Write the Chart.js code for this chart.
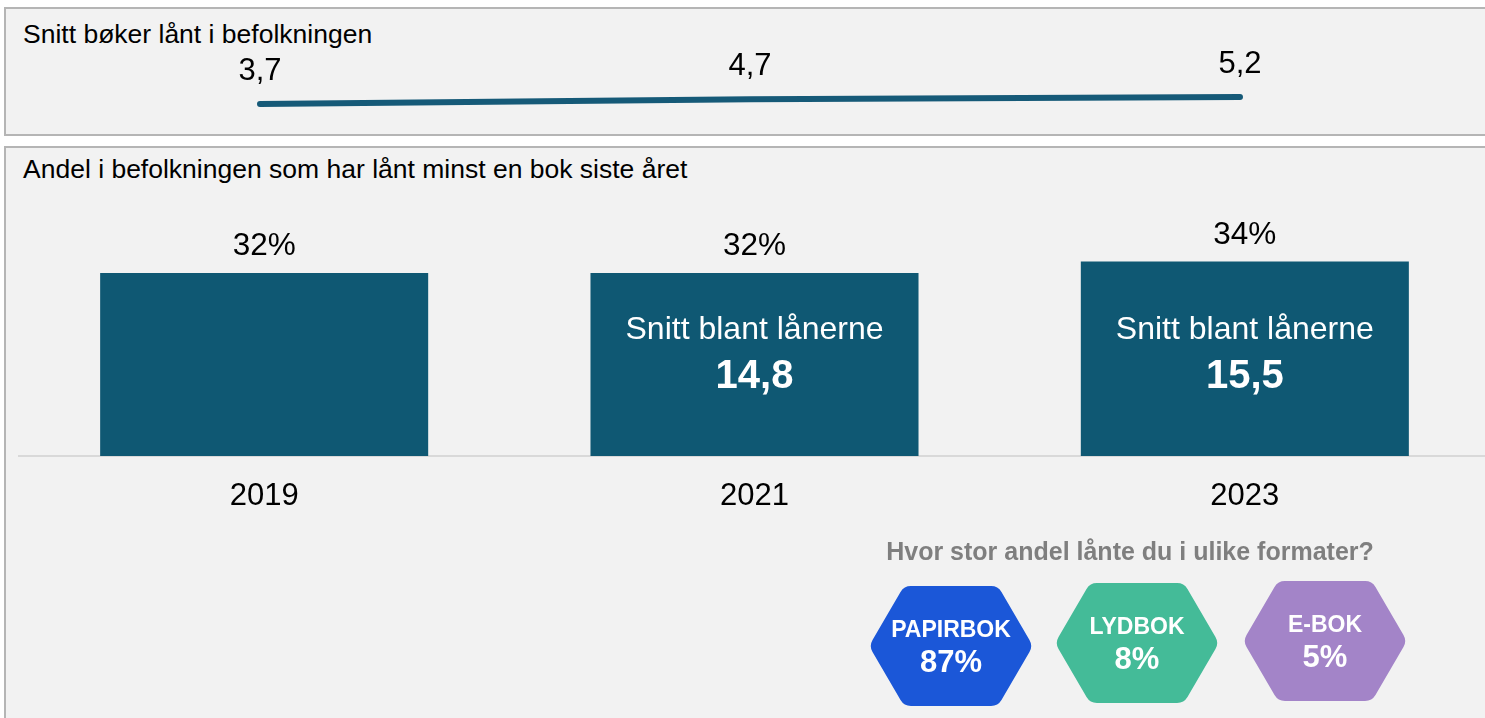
<!DOCTYPE html>
<html>
<head>
<meta charset="utf-8">
<script src="https://cdn.jsdelivr.net/npm/chart.js@4.4.1/dist/chart.umd.min.js"></script>
<style>
  html, body { margin: 0; padding: 0; background: #fff; overflow: hidden; width: 1485px; height: 718px; }
  body { position: relative; font-family: "Liberation Sans", Arial, sans-serif; }
  .panel { position: absolute; left: 4px; width: 1490px; background: #f2f2f2; border: 2px solid #b5b5b5; border-right: none; box-sizing: border-box; }
  .tittel { position: absolute; left: 23px; font-size: 26.5px; line-height: 26px; color: #000; white-space: nowrap; }
  canvas { position: absolute; left: 0; }
</style>
</head>
<body>
<div class="panel" style="top:7px;height:129px"></div>
<div class="panel" style="top:146px;height:600px"></div>
<div class="tittel" style="top:21px">Snitt bøker lånt i befolkningen</div>
<div class="tittel" style="top:156px">Andel i befolkningen som har lånt minst en bok siste året</div>
<canvas id="grafico1" width="1485" height="140" style="top:0"></canvas>
<canvas id="grafico2" width="1490" height="572" style="top:146px"></canvas>
<script>
const aar = ['2019', '2021', '2023'];
const snittBoker = [3.7, 4.7, 5.2];
const andelLaant = [32, 32, 34];
const snittLanere = [null, 14.8, 15.5];
const formater = ['PAPIRBOK', 'LYDBOK', 'E-BOK'];
const formatAndel = [87, 8, 5];
const formatFarger = ['#1b57d8', '#44bb98', '#a384c8'];

const fontFam = '"Liberation Sans", Arial, sans-serif';
const komma = v => String(v).replace('.', ',');

document.addEventListener("DOMContentLoaded", () => {
  // linje med snitt bøker
  const etiketterLinje = {
    id: 'etiketterLinje',
    afterDatasetsDraw(chart) {
      const ctx = chart.ctx;
      ctx.save();
      ctx.font = '31px ' + fontFam;
      ctx.fillStyle = '#000';
      ctx.textAlign = 'center';
      ctx.textBaseline = 'alphabetic';
      chart.getDatasetMeta(0).data.forEach((p, i) => {
        ctx.fillText(komma(snittBoker[i]), p.x, p.y - 24);
      });
      ctx.restore();
    }
  };

  new Chart(document.querySelector('#grafico1'), {
    type: 'line',
    data: {
      labels: aar,
      datasets: [{
        data: snittBoker,
        borderColor: '#165a78',
        borderWidth: 6,
        borderCapStyle: 'round',
        pointRadius: 0,
        tension: 0
      }]
    },
    options: {
      responsive: false,
      animation: false,
      devicePixelRatio: 1,
      layout: { padding: { left: 15, right: 0, top: 28, bottom: 18.7 } },
      plugins: { legend: { display: false }, tooltip: { enabled: false } },
      scales: {
        x: { display: false, offset: true },
        y: { display: false, min: 0, max: 20 }
      }
    },
    plugins: [etiketterLinje]
  });

  // søyler med andel
  const etiketterSoyle = {
    id: 'etiketterSoyle',
    afterDatasetsDraw(chart) {
      const ctx = chart.ctx;
      const bunn = chart.chartArea.bottom;
      ctx.save();
      ctx.textAlign = 'center';
      ctx.textBaseline = 'alphabetic';
      chart.getDatasetMeta(0).data.forEach((bar, i) => {
        ctx.fillStyle = '#000';
        ctx.font = '31.5px ' + fontFam;
        ctx.fillText(andelLaant[i] + '%', bar.x, bar.y - 18);
        if (snittLanere[i] != null) {
          ctx.fillStyle = '#fff';
          ctx.font = '32px ' + fontFam;
          ctx.fillText('Snitt blant lånerne', bar.x, bunn - 117);
          ctx.font = 'bold 40px ' + fontFam;
          ctx.fillText(komma(snittLanere[i]), bar.x, bunn - 68);
        }
      });
      ctx.restore();
    }
  };

  const sekskanter = {
    id: 'sekskanter',
    afterDraw(chart) {
      const ctx = chart.ctx;
      const sentre = [[951, 500], [1137, 497], [1325, 495]];
      ctx.save();
      ctx.textAlign = 'center';
      ctx.textBaseline = 'alphabetic';
      ctx.fillStyle = '#7f7f7f';
      ctx.font = 'bold 25px ' + fontFam;
      ctx.fillText('Hvor stor andel lånte du i ulike formater?', 1130, 414);
      formater.forEach((navn, i) => {
        const [cx, cy] = sentre[i];
        const hw = 82, hh = 60, top = 47, r = 12;
        const pkt = [[cx - top, cy - hh], [cx + top, cy - hh], [cx + hw, cy], [cx + top, cy + hh], [cx - top, cy + hh], [cx - hw, cy]];
        ctx.beginPath();
        ctx.moveTo((pkt[5][0] + pkt[0][0]) / 2, (pkt[5][1] + pkt[0][1]) / 2);
        for (let k = 0; k < 6; k++) {
          const a = pkt[k], b = pkt[(k + 1) % 6];
          ctx.arcTo(a[0], a[1], b[0], b[1], r);
        }
        ctx.closePath();
        ctx.fillStyle = formatFarger[i];
        ctx.fill();
        ctx.fillStyle = '#fff';
        ctx.font = 'bold 23px ' + fontFam;
        ctx.fillText(navn, cx, cy - 9);
        ctx.font = 'bold 31px ' + fontFam;
        ctx.fillText(formatAndel[i] + '%', cx, cy + 26);
      });
      ctx.restore();
    }
  };

  new Chart(document.querySelector('#grafico2'), {
    type: 'bar',
    data: {
      labels: aar,
      datasets: [{
        data: andelLaant,
        backgroundColor: '#0f5873',
        barPercentage: 0.669,
        categoryPercentage: 1
      }]
    },
    options: {
      responsive: false,
      animation: false,
      devicePixelRatio: 1,
      layout: { padding: { left: 19, right: 0, top: 81.25, bottom: 0 } },
      plugins: { legend: { display: false }, tooltip: { enabled: false } },
      scales: {
        x: {
          grid: { display: false, drawTicks: false },
          border: { display: true, color: '#d9d9d9', width: 2 },
          ticks: { color: '#000', font: { size: 31, family: fontFam }, padding: 22 },
          afterFit(scale) { scale.height = 262; }
        },
        y: { display: false, min: 0, max: 40 }
      }
    },
    plugins: [etiketterSoyle, sekskanter]
  });
});
</script>
</body>
</html>
